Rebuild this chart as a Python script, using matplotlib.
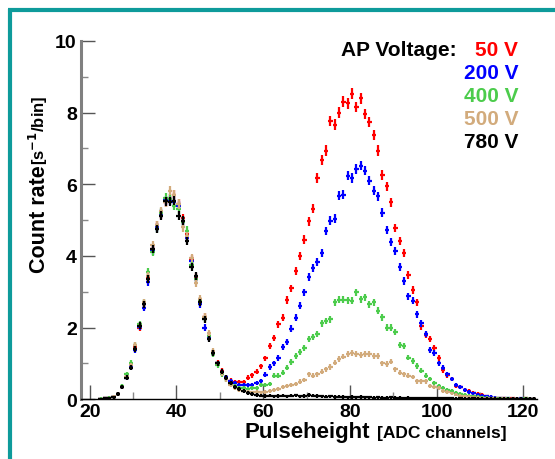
import numpy as np
import matplotlib
matplotlib.use('Agg')
import matplotlib.pyplot as plt
from matplotlib.lines import Line2D

plt.rcParams['font.family'] = ['Liberation Sans', 'DejaVu Sans']

# ADC channel bins 22..122 (bin centres at +0.5)
channels = np.arange(22, 123) + 0.5

rate_50V = [0.0, 0.02, 0.03, 0.06, 0.15, 0.35, 0.62, 0.92, 1.45, 2.0,
            2.65, 3.4, 4.2, 4.85, 5.15, 5.5, 5.6, 5.7, 5.45, 5.05,
            4.6, 3.9, 3.4, 2.75, 2.3, 1.75, 1.3, 1.02, 0.8, 0.6,
            0.52, 0.47, 0.47, 0.47, 0.6, 0.67, 0.76, 0.92, 1.14, 1.49,
            1.7, 2.09, 2.27, 2.77, 3.09, 3.57, 4.0, 4.45, 4.96, 5.31,
            6.17, 6.68, 6.94, 7.77, 7.66, 8.0, 8.3, 8.26, 8.52, 8.15,
            8.4, 7.96, 7.73, 7.37, 6.94, 6.26, 5.94, 5.49, 4.78, 4.42,
            4.08, 3.47, 3.05, 2.7, 2.03, 1.8, 1.68, 1.42, 1.15, 0.81,
            0.67, 0.56, 0.37, 0.34, 0.26, 0.22, 0.18, 0.15, 0.12, 0.08,
            0.04, 0.03, 0.02, 0.02, 0.01, 0.02, 0.01, 0.01, 0.02, 0.01,
            0.01]
rate_200V = [0.0, 0.02, 0.03, 0.05, 0.14, 0.33, 0.6, 0.9, 1.38, 2.02,
             2.55, 3.28, 4.15, 4.8, 5.18, 5.55, 5.55, 5.5, 5.4, 4.95,
             4.5, 3.85, 3.35, 2.65, 2.0, 1.7, 1.3, 1.0, 0.75, 0.62,
             0.5, 0.45, 0.4, 0.39, 0.39, 0.4, 0.45, 0.5, 0.68, 0.9,
             1.0, 1.15, 1.47, 1.6, 1.97, 2.27, 2.61, 2.98, 3.42, 3.65,
             3.82, 4.08, 4.69, 4.98, 5.04, 5.68, 5.71, 6.24, 6.17, 6.42,
             6.52, 6.38, 6.1, 5.82, 5.66, 5.2, 4.72, 4.39, 4.14, 3.7,
             3.3, 2.87, 2.75, 2.37, 2.12, 1.82, 1.37, 1.28, 1.0, 0.88,
             0.7, 0.56, 0.39, 0.35, 0.25, 0.2, 0.16, 0.13, 0.1, 0.08,
             0.06, 0.04, 0.03, 0.02, 0.02, 0.01, 0.01, 0.02, 0.01, 0.01,
             0.01]
rate_400V = [0.01, 0.02, 0.04, 0.06, 0.15, 0.36, 0.7, 1.02, 1.5, 2.1,
             2.7, 3.55, 4.1, 4.75, 5.2, 5.62, 5.6, 5.4, 5.3, 4.95,
             4.7, 3.75, 3.35, 2.75, 2.25, 1.75, 1.25, 0.95, 0.7, 0.55,
             0.42, 0.36, 0.3, 0.3, 0.28, 0.3, 0.32, 0.4, 0.4, 0.42,
             0.65, 0.65, 0.74, 0.88, 1.04, 1.21, 1.32, 1.44, 1.68, 1.73,
             1.82, 2.12, 2.18, 2.23, 2.7, 2.78, 2.78, 2.76, 2.75, 2.98,
             2.79, 2.84, 2.65, 2.7, 2.47, 2.28, 2.0, 2.0, 1.88, 1.5,
             1.48, 1.16, 1.07, 0.93, 0.79, 0.65, 0.56, 0.45, 0.37, 0.3,
             0.27, 0.22, 0.18, 0.14, 0.12, 0.1, 0.08, 0.06, 0.05, 0.04,
             0.03, 0.02, 0.02, 0.01, 0.02, 0.01, 0.01, 0.01, 0.02, 0.01,
             0.01]
rate_500V = [0.0, 0.02, 0.03, 0.06, 0.15, 0.35, 0.62, 0.95, 1.5, 2.05,
             2.7, 3.45, 4.3, 4.85, 5.25, 5.5, 5.82, 5.7, 5.45, 4.8,
             4.55, 3.95, 3.25, 2.8, 2.3, 1.85, 1.35, 1.0, 0.72, 0.55,
             0.4, 0.3, 0.25, 0.22, 0.2, 0.19, 0.2, 0.19, 0.2, 0.24,
             0.26, 0.28, 0.35, 0.37, 0.4, 0.42, 0.49, 0.54, 0.7, 0.66,
             0.7, 0.77, 0.84, 0.9, 1.02, 1.12, 1.19, 1.26, 1.3, 1.26,
             1.23, 1.26, 1.26, 1.2, 1.2, 1.0, 0.98, 1.05, 0.84, 0.74,
             0.7, 0.66, 0.62, 0.5, 0.5, 0.5, 0.36, 0.33, 0.3, 0.22,
             0.2, 0.16, 0.13, 0.1, 0.08, 0.06, 0.05, 0.04, 0.03, 0.03,
             0.02, 0.02, 0.01, 0.02, 0.01, 0.01, 0.01, 0.01, 0.01, 0.01,
             0.01]
rate_780V = [0.0, 0.02, 0.03, 0.05, 0.14, 0.33, 0.6, 0.88, 1.4, 2.05,
             2.65, 3.35, 4.19, 4.75, 5.12, 5.52, 5.51, 5.54, 5.12, 4.98,
             4.42, 3.68, 3.43, 2.7, 2.23, 1.68, 1.3, 1.0, 0.76, 0.6,
             0.45, 0.35, 0.28, 0.22, 0.17, 0.14, 0.12, 0.1, 0.09, 0.1,
             0.08, 0.09, 0.1, 0.08, 0.1, 0.11, 0.08, 0.09, 0.12, 0.1,
             0.09, 0.08, 0.07, 0.08, 0.06, 0.07, 0.06, 0.05, 0.06, 0.05,
             0.06, 0.05, 0.05, 0.04, 0.05, 0.04, 0.04, 0.05, 0.04, 0.04,
             0.03, 0.04, 0.03, 0.03, 0.03, 0.02, 0.03, 0.02, 0.02, 0.02,
             0.02, 0.02, 0.01, 0.02, 0.01, 0.01, 0.02, 0.01, 0.01, 0.01,
             0.01, 0.01, 0.01, 0.01, 0.01, 0.01, 0.01, 0.01, 0.01, 0.01,
             0.01]

labels = ['50 V', '200 V', '400 V', '500 V', '780 V']
colors = ['#ff0000', '#0000ff', '#4ccc4c', '#d2ab7c', '#000000']
series = [rate_50V, rate_200V, rate_400V, rate_500V, rate_780V]


def main():
	fig = plt.figure(figsize=(5.55, 4.6), dpi=100)
	ax = fig.add_axes([0.146, 0.130, 0.822, 0.779])

	for y, c in zip(series, colors):
		y = np.array(y)
		yerr = 0.04 * np.sqrt(y) + 0.035
		ax.errorbar(channels, y, xerr=0.5, yerr=yerr, fmt='none',
			ecolor=c, elinewidth=1.6, capsize=0)

	ax.set_xlim(18, 123.2)
	ax.set_ylim(0, 10)
	ax.set_xticks([20, 40, 60, 80, 100, 120])
	ax.set_xticks(np.arange(30, 121, 20), minor=True)
	ax.set_yticks([0, 2, 4, 6, 8, 10])
	ax.set_yticks([1, 3, 5, 7, 9], minor=True)

	for s in ['top', 'right']:
		ax.spines[s].set_visible(False)
	ax.spines['left'].set_color('#808080')
	ax.spines['left'].set_linewidth(2.2)
	ax.spines['bottom'].set_color('black')
	ax.spines['bottom'].set_linewidth(1.0)

	ax.tick_params(axis='both', which='major', direction='in', length=10,
		width=1.0, color='#555555', labelsize=14, pad=3)
	ax.tick_params(axis='both', which='minor', direction='in', length=5,
		width=1.0, color='#888888')
	for lab in ax.get_xticklabels() + ax.get_yticklabels():
		lab.set_fontweight('bold')

	# axis titles
	fig.text(245 / 555, 1 - 438 / 460, 'Pulseheight', fontsize=16,
		fontweight='bold', ha='left', va='baseline')
	fig.text(377 / 555, 1 - 438 / 460, '[ADC channels]', fontsize=12.5,
		fontweight='bold', ha='left', va='baseline')
	fig.text(0.072, 1 - 165 / 460, 'Count rate', fontsize=15.5,
		fontweight='bold', rotation=90, ha='center', va='top')
	fig.text(0.070, 1 - 165 / 460, r'[s$^{\mathbf{-1}}$/bin]', fontsize=12,
		fontweight='bold', rotation=90, ha='center', va='bottom')

	# legend block
	fig.text(457 / 555, 1 - 50 / 460, 'AP Voltage:', fontsize=15,
		fontweight='bold', ha='right', va='center')
	for i, (lab, c) in enumerate(zip(labels, colors)):
		fig.text(518 / 555, 1 - (50 + 23.2 * i) / 460, lab, fontsize=15,
			fontweight='bold', color=c, ha='right', va='center')

	# teal frame
	fig.add_artist(Line2D([9.5 / 555, 9.5 / 555], [0, 1 - 9.5 / 460],
		transform=fig.transFigure, color='#0e9b9b', lw=3.0, solid_capstyle='butt'))
	fig.add_artist(Line2D([8 / 555, 1], [1 - 11 / 460, 1 - 11 / 460],
		transform=fig.transFigure, color='#0e9b9b', lw=3.0, solid_capstyle='butt'))

	fig.savefig('out.png', dpi=100)


if __name__ == '__main__':
	main()
